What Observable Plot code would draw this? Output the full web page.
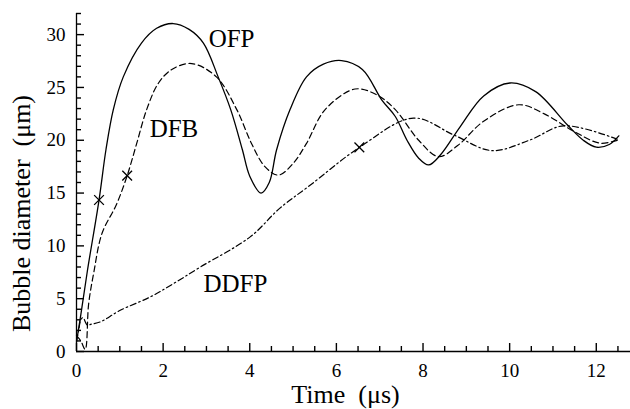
<!DOCTYPE html>
<html>
<head>
<meta charset="utf-8">
<script src="https://cdn.jsdelivr.net/npm/d3@7"></script>
<script src="https://cdn.jsdelivr.net/npm/@observablehq/plot@0.6"></script>
<style>
  html, body { margin: 0; padding: 0; background: #fff; }
  svg { font-family: "Liberation Serif", "DejaVu Serif", serif; }
</style>
</head>
<body>
<div id="chart"></div>
<script>
// Time (μs) and bubble diameter (μm) for each agent
const ofpT = [0, 0.1, 0.25, 0.52, 0.68, 0.85, 1.08, 1.5, 1.85, 2.23, 2.6, 2.93, 3.27, 3.56, 3.83, 4.0, 4.26, 4.45, 4.62, 4.93, 5.31, 5.7, 6.12, 6.6, 7.05, 7.36, 7.63, 7.9, 8.13, 8.4, 8.86, 9.4, 10.01, 10.6, 11.33, 11.7, 12.0, 12.3, 12.52];
const ofpD = [0.9, 3.5, 7.6, 14.34, 19.1, 22.9, 26.0, 29.2, 30.6, 31.05, 30.5, 29.2, 26.0, 22.9, 19.1, 16.6, 15.0, 16.0, 19.1, 22.9, 26.0, 27.2, 27.54, 26.7, 23.8, 22.25, 20.0, 18.3, 17.66, 18.6, 21.3, 24.2, 25.42, 24.6, 21.46, 20.0, 19.34, 19.6, 20.42];

const dfbT = [0, 0.1, 0.2, 0.28, 0.4, 0.59, 0.92, 1.17, 1.39, 1.62, 1.89, 2.2, 2.66, 3.23, 3.7, 4.04, 4.35, 4.66, 5.0, 5.31, 5.74, 6.43, 6.93, 7.36, 7.9, 8.36, 8.8, 9.4, 10.21, 10.8, 11.5, 12.09, 12.52];
const dfbD = [1.5, 1.0, 0.2, 4.5, 7.5, 11.2, 13.9, 16.65, 19.7, 22.9, 25.4, 26.7, 27.26, 26.0, 22.9, 19.7, 17.5, 16.7, 17.8, 19.7, 22.9, 24.85, 24.3, 22.9, 20.0, 18.45, 19.5, 21.8, 23.36, 22.5, 20.8, 19.72, 20.04];

const ddfpT = [0, 0.05, 0.1, 0.15, 0.25, 0.35, 0.55, 1.01, 1.7, 2.24, 2.86, 4.01, 4.69, 5.4, 6.53, 7.78, 8.71, 9.59, 10.48, 11.25, 12.52];
const ddfpD = [1.0, 2.0, 3.0, 3.2, 2.5, 2.6, 2.8, 3.9, 5.16, 6.43, 8.0, 10.85, 13.55, 15.76, 19.32, 22.1, 20.5, 19.02, 20.04, 21.37, 20.04];

// × markers
const markT = [0.52, 1.17, 6.53];
const markD = [14.34, 16.65, 19.32];

// curve labels
const labelText = ["OFP", "DFB", "DDFP"];
const labelT = [3.58, 2.25, 3.67];
const labelD = [29.6, 21.1, 6.4];

const xMajor = [0, 2, 4, 6, 8, 10, 12];
const xMinor = [0.5, 1, 1.5, 2.5, 3, 3.5, 4.5, 5, 5.5, 6.5, 7, 7.5, 8.5, 9, 9.5, 10.5, 11, 11.5, 12.5];
const yMajor = [0, 5, 10, 15, 20, 25, 30];
const yMinor = [1, 2, 3, 4, 6, 7, 8, 9, 11, 12, 13, 14, 16, 17, 18, 19, 21, 22, 23, 24, 26, 27, 28, 29, 31, 32];

const toRows = (T, D) => T.map((t, i) => ({t, d: D[i]}));
const ofp = toRows(ofpT, ofpD);
const dfb = toRows(dfbT, dfbD);
const ddfp = toRows(ddfpT, ddfpD);
const marks = toRows(markT, markD);
const labels = labelText.map((s, i) => ({s, t: labelT[i], d: labelD[i]}));

const W = 630, H = 409, ML = 76, MR = 0, MT = 13, MB = 58;
const frameW = W - ML - MR, frameH = H - MT - MB;
const majorLen = 8, minorLen = 5;

const chart = Plot.plot({
  width: W,
  height: H,
  marginLeft: ML,
  marginRight: MR,
  marginTop: MT,
  marginBottom: MB,
  style: {fontFamily: "Liberation Serif", background: "#fff", color: "#000", overflow: "visible"},
  x: {domain: [0, 12.79]},
  y: {domain: [0, 32]},
  marks: [
    Plot.ruleX([0], {stroke: "#000", strokeWidth: 1.3}),
    Plot.ruleY([0], {stroke: "#000", strokeWidth: 1.3}),
    // inward tick marks
    Plot.tickX(xMajor, {x: d => d, insetTop: frameH - majorLen, stroke: "#000", strokeWidth: 1.4}),
    Plot.tickX(xMinor, {x: d => d, insetTop: frameH - minorLen, stroke: "#000", strokeWidth: 1.4}),
    Plot.tickY(yMajor, {y: d => d, insetRight: frameW - majorLen, stroke: "#000", strokeWidth: 1.4}),
    Plot.tickY(yMinor, {y: d => d, insetRight: frameW - minorLen, stroke: "#000", strokeWidth: 1.4}),
    // tick labels
    Plot.axisX({ticks: xMajor, tickSize: 0, tickPadding: 12, fontSize: 19, label: null, tickFormat: d => String(d)}),
    Plot.axisY({ticks: yMajor, tickSize: 0, tickPadding: 11, fontSize: 19, label: null, tickFormat: d => String(d)}),
    Plot.line(ofp, {x: "t", y: "d", stroke: "#000", strokeWidth: 1.3, curve: "catmull-rom"}),
    Plot.line(dfb, {x: "t", y: "d", stroke: "#000", strokeWidth: 1.2, strokeDasharray: "6,3.5", curve: "catmull-rom"}),
    Plot.line(ddfp, {x: "t", y: "d", stroke: "#000", strokeWidth: 1.2, strokeDasharray: "6,3,1.5,3", curve: "catmull-rom"}),
    Plot.dot(marks, {x: "t", y: "d", symbol: "times", r: 4.5, stroke: "#000", strokeWidth: 1.3}),
    Plot.text(labels, {x: "t", y: "d", text: "s", fontSize: 25, fill: "#000"}),
    Plot.text(["Time  (μs)"], {frameAnchor: "bottom", lineAnchor: "middle", textAnchor: "middle", dx: -8, dy: 43, fontSize: 26, fill: "#000"}),
    Plot.text(["Bubble diameter  (μm)"], {frameAnchor: "left", lineAnchor: "middle", textAnchor: "middle", rotate: -90, dx: -55, dy: 31, fontSize: 26, fill: "#000"})
  ]
});
document.getElementById("chart").appendChild(chart);
</script>
</body>
</html>
